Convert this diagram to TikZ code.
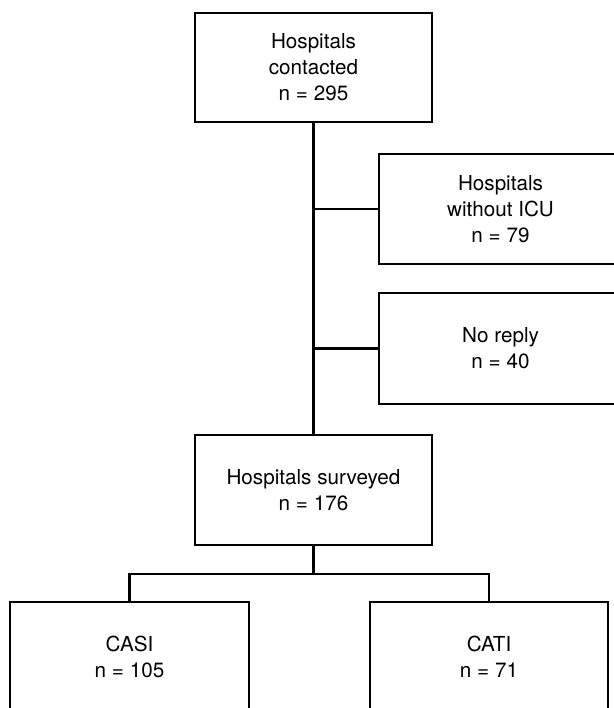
\documentclass[tikz,border=0pt]{standalone}
\usepackage{fontspec}
\setmainfont{TeX Gyre Heros}
\begin{document}
\begin{tikzpicture}[x=0.75pt,y=-0.75pt,
  box/.style={draw=black,line width=1.5pt,rectangle,align=center,inner sep=0pt,
    font=\fontsize{15.5}{19.5}\selectfont},
  conn/.style={draw=black,line width=1.6pt}]
\useasboundingbox (0,0) rectangle (614,708);
\clip (0,0) rectangle (614,708);
\node[box,minimum width=177.75pt,minimum height=81.75pt] (top) at (313.5,67.5) {Hospitals\\contacted\\n = 295};
\node[box,minimum width=182.25pt,minimum height=82.5pt] (side1) at (500.5,209) {Hospitals\\without ICU\\n = 79};
\node[box,minimum width=182.25pt,minimum height=83.25pt] (side2) at (500.5,348.5) {No reply\\n = 40};
\node[box,minimum width=177.75pt,minimum height=82.5pt] (survey) at (313.5,490) {Hospitals surveyed\\n = 176};
\node[box,minimum width=179.25pt,minimum height=82.5pt] (casi) at (129.5,657) {CASI\\n = 105};
\node[box,minimum width=178.5pt,minimum height=82.5pt] (cati) at (489,657) {CATI\\n = 71};
\coordinate (split) at (313.5,574);
\draw[conn] (top.south) -- (survey.north);
\draw[conn] (side1.west) -- (side1.west -| top.south);
\draw[conn] (side2.west) -- (side2.west -| top.south);
\draw[conn] (survey.south) -- (split);
\draw[conn] (casi.north) |- (split) -| (cati.north);
\end{tikzpicture}
\end{document}
